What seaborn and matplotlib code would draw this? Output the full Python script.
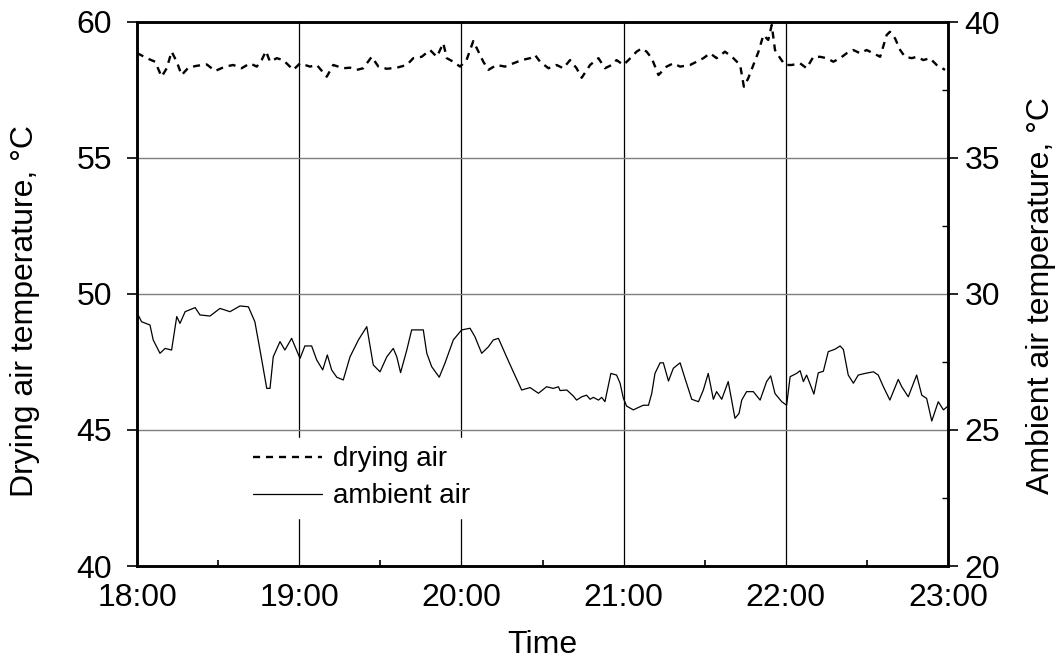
import numpy as np
import pandas as pd
import matplotlib
matplotlib.use("Agg")
import matplotlib.pyplot as plt
from matplotlib.ticker import MultipleLocator
import seaborn as sns

# Drying air temperature (left axis), minutes after 18:00
drying_min = [0, 3.6, 6.7, 9.1, 11.0, 12.8, 14.7, 16.5, 19.0, 22.1, 25.8, 28.9, 32.6, 35.6,
              38.7, 41.8, 44.3, 46.1, 47.7, 49.2, 51.7, 54.1, 57.8, 60.3, 64.0, 66.5, 70.2,
              72.6, 76.3, 78.8, 81.3, 83.7, 86.8, 89.3, 92.4, 96.1, 99.8, 102.2, 105.3, 108.4,
              110.9, 113.3, 114.6, 117.0, 119.5, 121.9, 124.4, 126.3, 128.1, 130.0, 133.0,
              136.1, 139.2, 142.3, 145.4, 147.2, 149.1, 152.2, 155.2, 157.7, 160.2, 162.6,
              164.5, 167.6, 170.7, 173.1, 175.6, 177.4, 179.9, 181.8, 184.8, 186.7, 188.5,
              190.4, 192.9, 195.9, 198.4, 200.9, 204.6, 207.0, 209.5, 212.0, 214.4, 217.5,
              220.6, 223.1, 224.5, 226.1, 228.0, 229.9, 231.7, 233.5, 234.8, 236.0, 237.9,
              239.7, 242.2, 245.3, 247.7, 250.2, 252.7, 255.1, 257.6, 260.1, 262.5, 265.0,
              267.5, 269.9, 272.4, 274.9, 277.3, 278.5, 280.4, 282.3, 284.1, 286.6, 288.4,
              290.9, 293.3, 295.8, 298.9]
drying_temp = [58.86, 58.67, 58.54, 57.99, 58.30, 58.91, 58.54, 58.05, 58.32, 58.39, 58.44,
               58.20, 58.36, 58.42, 58.30, 58.48, 58.36, 58.60, 58.93, 58.54, 58.67, 58.60,
               58.24, 58.48, 58.36, 58.42, 57.99, 58.42, 58.30, 58.32, 58.24, 58.30, 58.72,
               58.36, 58.28, 58.32, 58.42, 58.67, 58.72, 58.97, 58.72, 59.22, 58.67, 58.54,
               58.36, 58.60, 59.30, 58.91, 58.54, 58.24, 58.42, 58.36, 58.48, 58.60, 58.67,
               58.79, 58.54, 58.30, 58.42, 58.30, 58.60, 58.30, 57.95, 58.42, 58.67, 58.30,
               58.42, 58.60, 58.42, 58.60, 58.91, 59.03, 58.91, 58.67, 58.05, 58.36, 58.48,
               58.36, 58.42, 58.54, 58.67, 58.85, 58.67, 58.91, 58.67, 58.42, 57.62, 57.93,
               58.42, 58.91, 59.52, 59.34, 59.89, 58.97, 58.67, 58.42, 58.42, 58.48, 58.30,
               58.72, 58.72, 58.67, 58.54, 58.67, 58.85, 58.97, 58.85, 58.97, 58.85, 58.72,
               59.52, 59.64, 59.40, 58.97, 58.72, 58.67, 58.72, 58.60, 58.67, 58.42, 58.24]

# Ambient air temperature (right axis), minutes after 18:00
ambient_min = [0, 1.7, 4.8, 6.0, 8.5, 10.4, 12.8, 14.7, 15.9, 17.8, 21.5, 23.3, 27.0, 30.7,
               34.4, 38.1, 41.2, 43.6, 45.5, 48.0, 49.2, 50.4, 52.9, 54.7, 57.2, 60.3, 62.1,
               64.6, 66.5, 68.7, 70.4, 72.0, 73.9, 76.3, 78.8, 81.9, 85.0, 87.4, 89.9, 92.4,
               94.8, 96.1, 97.5, 99.8, 101.6, 105.9, 107.2, 109.0, 111.8, 113.9, 117.0, 120.1,
               123.2, 125.0, 127.5, 130.0, 131.8, 133.7, 136.7, 139.2, 142.3, 145.4, 148.5,
               151.5, 154.0, 155.9, 156.5, 159.0, 161.4, 162.6, 164.5, 166.3, 167.6, 168.8,
               170.7, 171.9, 173.1, 174.4, 175.3, 177.4, 178.7, 179.9, 181.1, 183.6, 185.5,
               187.3, 189.2, 190.4, 191.6, 193.5, 194.7, 196.6, 198.4, 200.9, 202.7, 205.2,
               207.7, 209.5, 211.3, 213.2, 214.4, 216.3, 218.7, 221.2, 222.7, 223.7, 225.5,
               228.0, 230.5, 232.9, 234.4, 236.0, 238.5, 240.3, 241.6, 244.0, 245.3, 246.5,
               247.7, 250.4, 252.0, 253.9, 255.7, 258.2, 260.1, 261.3, 263.1, 265.0, 266.8,
               269.3, 272.4, 274.2, 276.1, 278.5, 281.6, 282.9, 285.3, 288.4, 290.3, 292.1,
               294.0, 296.4, 298.3, 300.0]
ambient_temp = [29.31, 28.98, 28.86, 28.31, 27.82, 28.00, 27.94, 29.17, 28.92, 29.35, 29.50,
                29.23, 29.19, 29.47, 29.35, 29.56, 29.53, 28.98, 27.94, 26.53, 26.53, 27.69,
                28.25, 27.94, 28.37, 27.63, 28.09, 28.09, 27.57, 27.21, 27.76, 27.21, 26.94,
                26.84, 27.69, 28.31, 28.80, 27.39, 27.14, 27.69, 28.00, 27.69, 27.11, 27.94,
                28.68, 28.68, 27.82, 27.33, 26.94, 27.45, 28.31, 28.68, 28.74, 28.43, 27.82,
                28.06, 28.31, 28.37, 27.69, 27.14, 26.47, 26.56, 26.35, 26.59, 26.53, 26.59,
                26.45, 26.47, 26.25, 26.10, 26.22, 26.28, 26.13, 26.20, 26.10, 26.20, 26.04,
                26.65, 27.08, 27.02, 26.72, 26.17, 25.88, 25.74, 25.83, 25.91, 25.91, 26.34,
                27.08, 27.47, 27.47, 26.80, 27.27, 27.47, 26.90, 26.13, 26.04, 26.47, 27.08,
                26.13, 26.41, 26.13, 26.78, 25.43, 25.61, 26.10, 26.41, 26.41, 26.10, 26.78,
                26.99, 26.34, 26.04, 25.91, 26.96, 27.08, 27.18, 26.78, 27.02, 26.32, 27.10,
                27.16, 27.88, 27.97, 28.09, 27.96, 27.02, 26.72, 27.02, 27.08, 27.14, 27.02,
                26.59, 26.10, 26.86, 26.59, 26.22, 27.02, 26.28, 26.16, 25.33, 26.04, 25.74,
                25.88]

hour_ticks = [0, 60, 120, 180, 240, 300]
hour_labels = ["18:00", "19:00", "20:00", "21:00", "22:00", "23:00"]

drying_df = pd.DataFrame({"minute": drying_min, "temp": drying_temp})
ambient_df = pd.DataFrame({"minute": ambient_min, "temp": ambient_temp})

sns.set_style("white")
plt.rcParams["font.family"] = ["Liberation Sans", "DejaVu Sans"]
plt.rcParams["text.color"] = "black"
plt.rcParams["axes.labelcolor"] = "black"
plt.rcParams["xtick.color"] = "black"
plt.rcParams["ytick.color"] = "black"

fig = plt.figure(figsize=(10.63, 6.65), dpi=100)
ax = fig.add_axes([137 / 1063, 99 / 665, 811 / 1063, 544 / 665])
ax2 = ax.twinx()

sns.lineplot(data=drying_df, x="minute", y="temp", ax=ax, color="black",
             linewidth=1.7, linestyle=(0, (3, 2.5)), estimator=None, label="drying air")
sns.lineplot(data=ambient_df, x="minute", y="temp", ax=ax2, color="black",
             linewidth=0.9, estimator=None, label="ambient air")

ax.set_xlim(0, 300)
ax.set_ylim(40, 60)
ax2.set_ylim(20, 40)

ax.set_xticks(hour_ticks)
ax.set_xticklabels(hour_labels)
ax.xaxis.set_minor_locator(MultipleLocator(30))
ax.set_yticks([40, 45, 50, 55, 60])
ax2.set_yticks([20, 25, 30, 35, 40])
ax2.yaxis.set_minor_locator(MultipleLocator(2.5))

ax.xaxis.grid(True, color="black", linewidth=0.9)
ax.yaxis.grid(True, color="#7f7f7f", linewidth=1.0)
ax.set_axisbelow(True)

fs = 23
ax.tick_params(axis="x", which="major", length=0, pad=12, labelsize=fs)
ax.tick_params(axis="x", which="minor", direction="in", length=4, width=1.2, bottom=True)
ax.tick_params(axis="y", which="major", direction="out", length=7, width=1.2,
               pad=11, labelsize=fs, left=True)
ax2.tick_params(axis="y", which="major", direction="out", length=7, width=1.2,
                pad=5, labelsize=fs, right=True)
ax2.tick_params(axis="y", which="minor", direction="in", length=4, width=1.0, right=True)

ax.set_xlabel("Time", fontsize=fs)
ax.set_ylabel("Drying air temperature, °C", fontsize=fs)
ax2.set_ylabel("Ambient air temperature, °C", fontsize=fs)
ax.xaxis.set_label_coords(0.5, -0.117)
ax.yaxis.set_label_coords(-0.12, 0.469)
ax2.yaxis.set_label_coords(1.096, 0.497)

for a in (ax, ax2):
    for s in a.spines.values():
        s.set_linewidth(1.8)
        s.set_color("black")

h1, l1 = ax.get_legend_handles_labels()
h2, l2 = ax2.get_legend_handles_labels()
if ax.get_legend() is not None:
    ax.get_legend().remove()
leg = ax2.legend(h1 + h2, l1 + l2, loc="center", bbox_to_anchor=(0.277, 0.162),
                 fontsize=20, frameon=True, facecolor="white", edgecolor="white",
                 framealpha=1, fancybox=False, handlelength=2.5, handletextpad=0.4,
                 labelspacing=0.4, borderpad=0.3)

fig.savefig("out.png", dpi=100)
